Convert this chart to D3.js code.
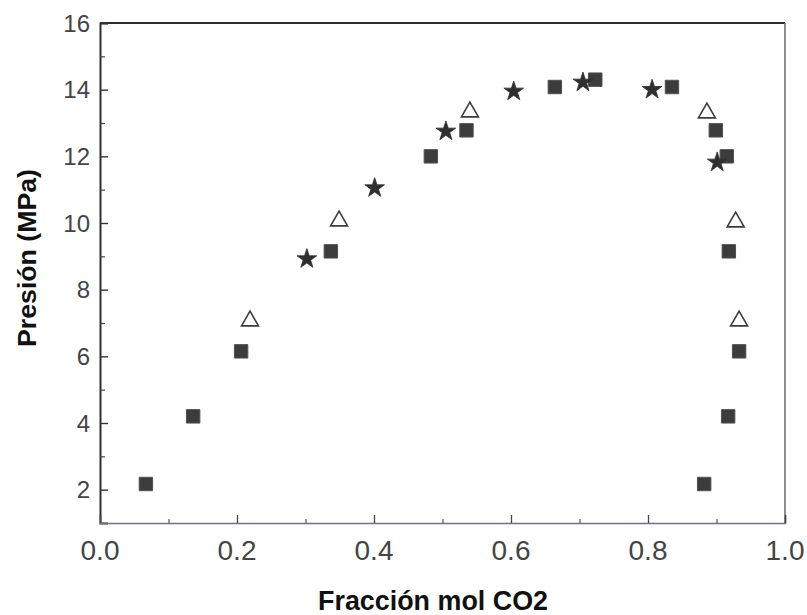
<!DOCTYPE html>
<html>
<head>
<meta charset="utf-8">
<script src="https://cdn.jsdelivr.net/npm/d3@7"></script>
<style>
  html, body { margin: 0; padding: 0; background: #ffffff; }
  svg { display: block; }
</style>
</head>
<body>
<svg id="chart" width="807" height="615"></svg>
<script>
// Phase-equilibrium data: CO2 mole fraction vs pressure (MPa)
const squareX = [0.067, 0.136, 0.206, 0.337, 0.483, 0.535, 0.664, 0.723, 0.835, 0.899, 0.915, 0.918, 0.933, 0.917, 0.882];
const squareY = [2.17, 4.20, 6.15, 9.15, 12.00, 12.78, 14.08, 14.30, 14.08, 12.78, 12.00, 9.15, 6.15, 4.20, 2.17];

const triangleX = [0.219, 0.349, 0.540, 0.886, 0.928, 0.933];
const triangleY = [7.06, 10.06, 13.33, 13.30, 10.03, 7.06];

const starX = [0.302, 0.401, 0.505, 0.604, 0.705, 0.806, 0.901];
const starY = [8.92, 11.05, 12.75, 13.95, 14.22, 14.00, 11.82];

const xTicks = [0, 0.2, 0.4, 0.6, 0.8, 1.0];
const xMinor = [0.1, 0.3, 0.5, 0.7, 0.9];
const yTicks = [2, 4, 6, 8, 10, 12, 14, 16];
const yMinor = [3, 5, 7, 9, 11, 13, 15];

const xTitle = "Fracción mol CO2";
const yTitle = "Presión (MPa)";

const svg = d3.select("#chart");
const plotLeft = 100, plotRight = 785, plotTop = 23, plotBottom = 523;

const x = d3.scaleLinear().domain([0, 1]).range([plotLeft, plotRight]);
const y = d3.scaleLinear().domain([1, 16]).range([plotBottom, plotTop]);

// Frame: top and right borders
svg.append("line").attr("x1", plotLeft).attr("x2", plotRight).attr("y1", plotTop).attr("y2", plotTop)
  .attr("stroke", "#2e2e2e").attr("stroke-width", 2);
svg.append("line").attr("x1", plotRight).attr("x2", plotRight).attr("y1", plotTop).attr("y2", plotBottom)
  .attr("stroke", "#6a6a6a").attr("stroke-width", 1.5);

// Left axis with inward ticks
const yAxis = svg.append("g").attr("transform", `translate(${plotLeft},0)`)
  .call(d3.axisRight(y).tickValues(yTicks).tickSize(8).tickFormat(""));
yAxis.select(".domain").attr("stroke", "#2e2e2e").attr("stroke-width", 2);
yAxis.selectAll(".tick line").attr("stroke", "#333").attr("stroke-width", 1.4);
const yAxisMinor = svg.append("g").attr("transform", `translate(${plotLeft},0)`)
  .call(d3.axisRight(y).tickValues(yMinor).tickSize(5).tickFormat(""));
yAxisMinor.select(".domain").remove();
yAxisMinor.selectAll(".tick line").attr("stroke", "#444").attr("stroke-width", 1.2);

// Bottom axis with inward ticks
const xAxis = svg.append("g").attr("transform", `translate(0,${plotBottom})`)
  .call(d3.axisTop(x).tickValues(xTicks).tickSize(8).tickFormat(""));
xAxis.select(".domain").attr("stroke", "#7d6a86").attr("stroke-width", 1.6);
xAxis.selectAll(".tick line").attr("stroke", "#444").attr("stroke-width", 1.3);
const xAxisMinor = svg.append("g").attr("transform", `translate(0,${plotBottom})`)
  .call(d3.axisTop(x).tickValues(xMinor).tickSize(4).tickFormat(""));
xAxisMinor.select(".domain").remove();
xAxisMinor.selectAll(".tick line").attr("stroke", "#555").attr("stroke-width", 1.2);

// Tick labels
svg.append("g").selectAll("text").data(yTicks).join("text")
  .attr("x", 90).attr("y", d => y(d) + 8.5)
  .attr("text-anchor", "end")
  .attr("font-family", "Liberation Sans, Arial, sans-serif")
  .attr("font-size", 24).attr("fill", "#444")
  .text(d => d);

svg.append("g").selectAll("text").data(xTicks).join("text")
  .attr("x", d => x(d)).attr("y", plotBottom + 37)
  .attr("text-anchor", "middle")
  .attr("font-family", "Liberation Sans, Arial, sans-serif")
  .attr("font-size", 28).attr("fill", "#444")
  .text(d => d.toFixed(1));

// Axis titles
svg.append("text")
  .attr("x", 433).attr("y", 610)
  .attr("text-anchor", "middle")
  .attr("font-family", "Liberation Sans, Arial, sans-serif")
  .attr("font-weight", "bold").attr("font-size", 27)
  .attr("textLength", 230).attr("lengthAdjust", "spacingAndGlyphs")
  .attr("fill", "#111")
  .text(xTitle);

svg.append("text")
  .attr("transform", "translate(36,258) rotate(-90)")
  .attr("text-anchor", "middle")
  .attr("font-family", "Liberation Sans, Arial, sans-serif")
  .attr("font-weight", "bold").attr("font-size", 26)
  .attr("textLength", 178).attr("lengthAdjust", "spacingAndGlyphs")
  .attr("fill", "#111")
  .text(yTitle);

// Markers
const squares = d3.zip(squareX, squareY);
const triangles = d3.zip(triangleX, triangleY);
const stars = d3.zip(starX, starY);

svg.append("g").selectAll("path").data(triangles).join("path")
  .attr("transform", d => `translate(${x(d[0])},${y(d[1])})`)
  .attr("d", d3.symbol(d3.symbolTriangle, 125))
  .attr("fill", "#ffffff").attr("stroke", "#3c3c3c").attr("stroke-width", 1.6);

svg.append("g").selectAll("path").data(squares).join("path")
  .attr("transform", d => `translate(${x(d[0])},${y(d[1])})`)
  .attr("d", d3.symbol(d3.symbolSquare, 180))
  .attr("fill", "#3c3c3c").attr("stroke", "#505050").attr("stroke-width", 1);

svg.append("g").selectAll("path").data(stars).join("path")
  .attr("transform", d => `translate(${x(d[0])},${y(d[1])})`)
  .attr("d", d3.symbol(d3.symbolStar, 120))
  .attr("fill", "#2f2f2f").attr("stroke", "#2f2f2f").attr("stroke-width", 0.8);
</script>
</body>
</html>
